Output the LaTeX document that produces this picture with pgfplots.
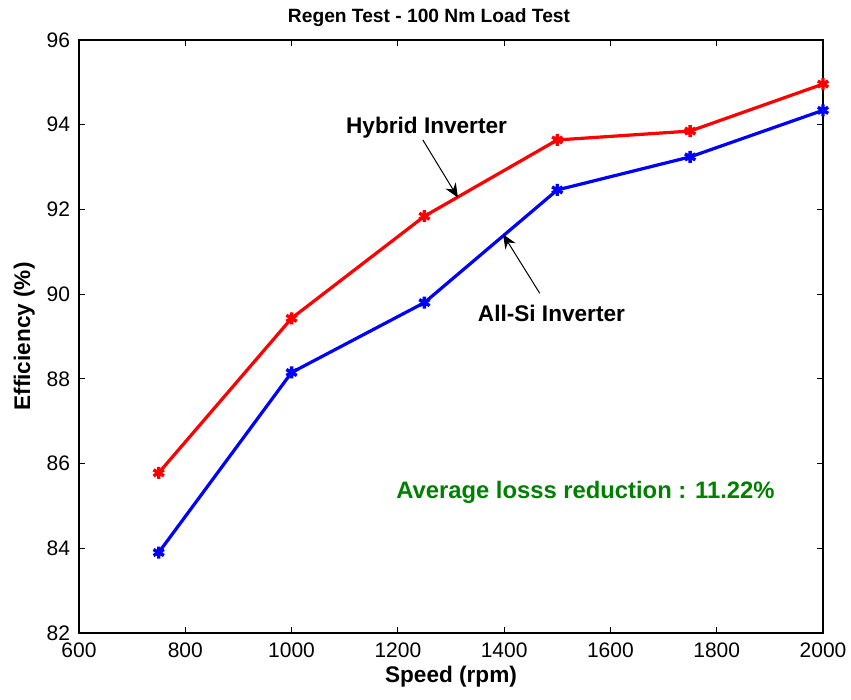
\documentclass[border=0pt]{standalone}
\usepackage{fontspec}
\setmainfont{Liberation Sans}
\usepackage{pgfplots}
\pgfplotsset{compat=1.18}
\usetikzlibrary{arrows.meta}
\definecolor{mgreen}{rgb}{0,0.5,0}
\begin{document}
\begin{tikzpicture}
\begin{axis}[
  name=ax,
  scale only axis,
  width=372pt, height=296.5pt,
  xmin=600, xmax=2000, ymin=82, ymax=96,
  xtick={600,800,...,2000}, ytick={82,84,...,96},
  tick align=inside, tick pos=both,
  major tick length=3pt,
  tick style={black, line width=0.5pt},
  axis line style={line width=0.6pt},
  /pgf/number format/assume math mode=true,
  /pgf/number format/1000 sep={},
  tick label style={font=\fontsize{10.5}{12}\selectfont},
  xticklabel style={yshift=-1.5pt},
  yticklabel style={xshift=-1pt},
  title={\textbf{Regen Test - 100 Nm Load Test}},
  title style={font=\fontsize{9.6}{11}\selectfont, yshift=-3pt, xshift=-11pt},
  xlabel={\textbf{Speed (rpm)}},
  ylabel={\textbf{Efficiency (\%)}},
  label style={font=\fontsize{11.3}{13}\selectfont},
  xlabel style={yshift=3pt},
  ylabel style={yshift=-1pt},
  clip=false,
]
\addplot[color=red, line width=1.6pt, mark=asterisk, mark size=3pt, mark options={line width=1.7pt}]
  coordinates {(750,85.78) (1000,89.43) (1250,91.84) (1500,93.64) (1750,93.85) (2000,94.96)};
\addplot[color=blue, line width=1.6pt, mark=asterisk, mark size=3pt, mark options={line width=1.7pt}]
  coordinates {(750,83.90) (1000,88.15) (1250,89.80) (1500,92.46) (1750,93.24) (2000,94.34)};
\draw[-{Stealth[length=7pt,width=6pt]}, line width=0.5pt] (axis cs:1247,93.64) -- (axis cs:1313,92.28);
\draw[-{Stealth[length=7pt,width=6pt]}, line width=0.5pt] (axis cs:1467,90.02) -- (axis cs:1398,91.41);
\node[font=\fontsize{11.3}{13}\selectfont\bfseries] at (axis cs:1254,93.94) {Hybrid Inverter};
\node[font=\fontsize{11.3}{13}\selectfont\bfseries] at (axis cs:1489,89.55) {All-Si Inverter};
\node[font=\fontsize{11.9}{14}\selectfont\bfseries, text=mgreen] at (axis cs:1553,85.32) {Average losss reduction : 11.22\%};
\end{axis}
\pgfresetboundingbox
\path (ax.south west) +(-39.5pt,-33.5pt) (ax.north east) +(14pt,20pt);
\end{tikzpicture}
\end{document}
